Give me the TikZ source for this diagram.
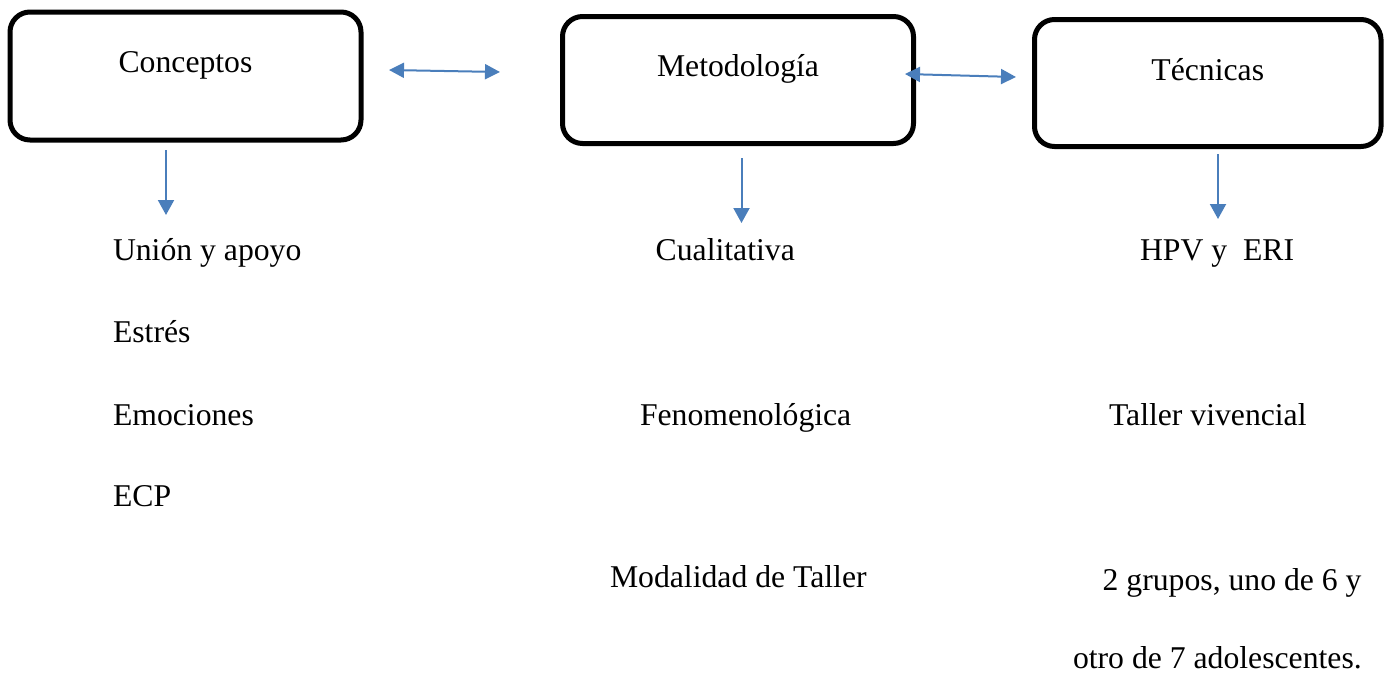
\documentclass[tikz,border=0pt]{standalone}
\usepackage{fontspec}
\setmainfont{Liberation Serif}
\usetikzlibrary{arrows.meta}
\definecolor{arrowblue}{RGB}{74,126,187}
\begin{document}
\begin{tikzpicture}[x=1pt,y=-1pt,
  every node/.style={inner sep=0pt,outer sep=0pt,font=\fontsize{31.7}{38}\selectfont},
  headbox/.style={draw=black,line width=5pt,rounded corners=20pt,rectangle,anchor=north},
  itemtext/.style={anchor=base west},
  conn/.style={draw=arrowblue,line width=2pt,-{Triangle[length=15pt,width=16pt]}},
  dconn/.style={draw=arrowblue,line width=2pt,{Triangle[length=15pt,width=15pt]}-{Triangle[length=15pt,width=15pt]}}]
\useasboundingbox (0,0) rectangle (1385,673);
% boxes
\node[headbox,minimum width=351pt,text height=60.7pt,text depth=67.3pt] (conc) at (185.5,12) {Conceptos};
\node[headbox,minimum width=351pt,text height=59.5pt,text depth=67.5pt] (meto) at (738,16.5) {Metodología};
\node[headbox,minimum width=346.5pt,text height=60.5pt,text depth=66.5pt] (tecn) at (1207.75,19.5) {Técnicas};
% texts
\node[itemtext] (t1) at (113,260.7) {Unión y apoyo};
\node[itemtext] (t2) at (113,342) {Estrés};
\node[itemtext] (t3) at (113,425) {Emociones};
\node[itemtext] (t4) at (113,506) {ECP};
\node[itemtext] (m1) at (655.7,260.7) {Cualitativa};
\node[itemtext] (m2) at (640,425) {Fenomenológica};
\node[itemtext] (m3) at (610,587.7) {Modalidad de Taller};
\node[itemtext] (k1) at (1140,260.7) {HPV y \ ERI};
\node[itemtext] (k2) at (1109,425) {Taller vivencial};
\node[itemtext] (k3) at (1102.7,590) {2 grupos, uno de 6 y};
\node[itemtext] (k4) at (1073,668.5) {otro de 7 adolescentes.};
% connector ends
\coordinate (a1s) at (389,70);
\coordinate (a1e) at (500,72);
\coordinate (a2s) at (905,74);
\coordinate (a2e) at (1016,77);
\coordinate (d1s) at (166,150);
\coordinate (d1e) at (166,215);
\coordinate (d2s) at (741.5,158);
\coordinate (d2e) at (741.5,223);
\coordinate (d3s) at (1218,154);
\coordinate (d3e) at (1218,219);
\draw[dconn] (a1s) -- (a1e);
\draw[dconn] (a2s) -- (a2e);
\draw[conn] (d1s) -- (d1e);
\draw[conn] (d2s) -- (d2e);
\draw[conn] (d3s) -- (d3e);
\end{tikzpicture}
\end{document}
